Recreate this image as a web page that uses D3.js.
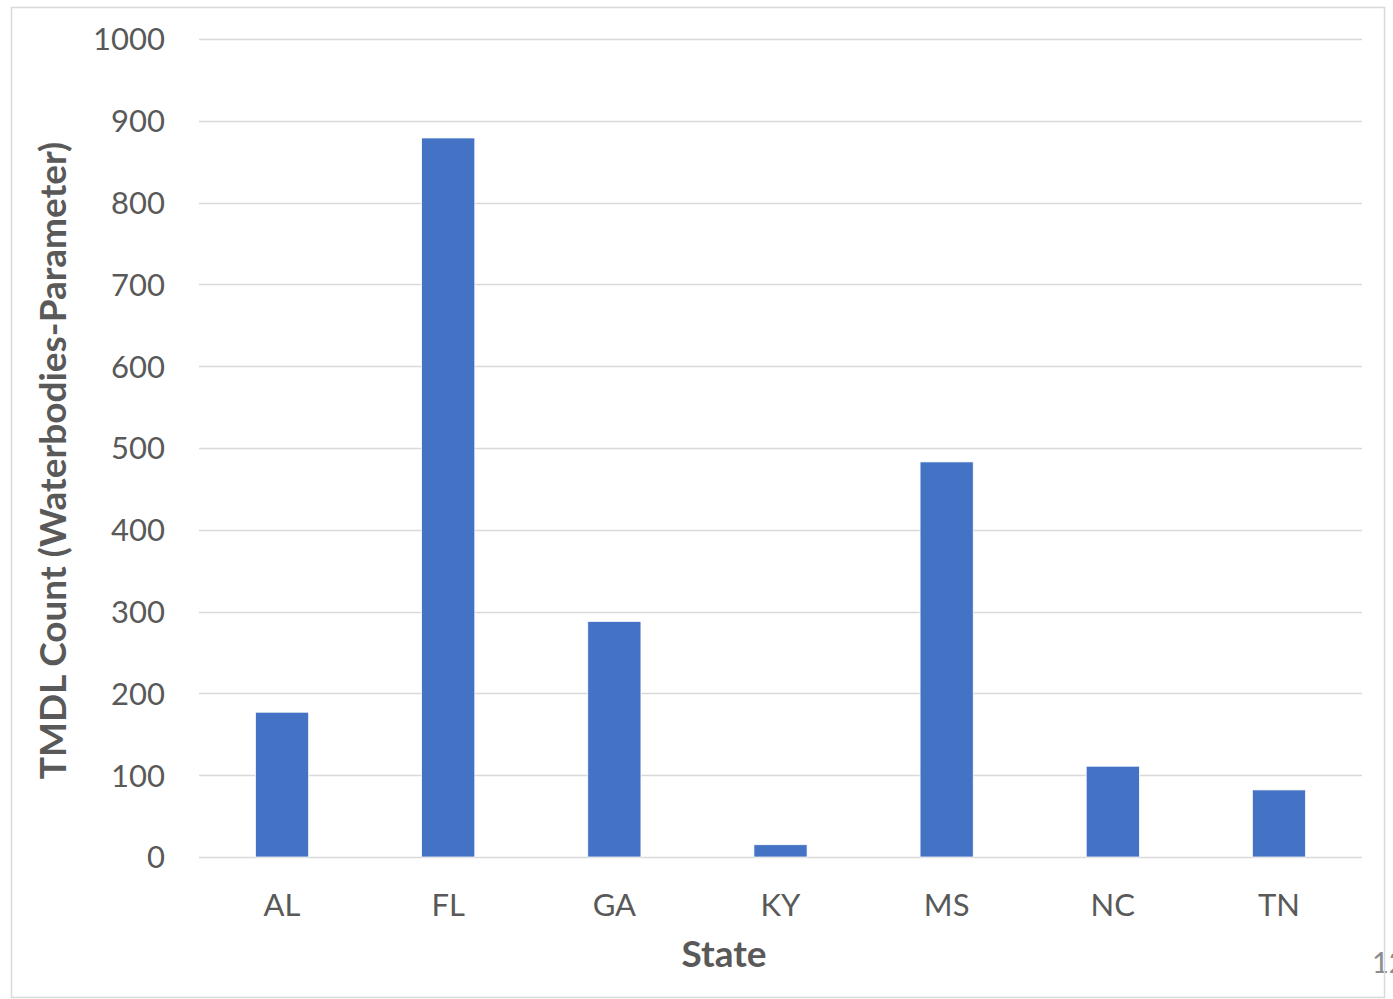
<!DOCTYPE html>
<html>
<head>
<meta charset="utf-8">
<script src="https://cdn.jsdelivr.net/npm/d3@7"></script>
<style>
  html, body { margin: 0; padding: 0; background: #fff; }
  svg { display: block; }
</style>
</head>
<body>
<svg id="chart" width="1393" height="999"></svg>
<script>
const categories = ["AL", "FL", "GA", "KY", "MS", "NC", "TN"];
const values = [177, 879, 288, 15, 483, 111, 82];
const yTicks = [0, 100, 200, 300, 400, 500, 600, 700, 800, 900, 1000];
const xTitle = "State";
const yTitle = "TMDL Count (Waterbodies-Parameter)";
const pageNumber = "12";

const svg = d3.select("#chart");
const font = "Lato, 'Open Sans', sans-serif";
const textColor = "#595959";

const plot = { left: 199, right: 1362, top: 39, bottom: 857 };

const x = d3.scaleBand().domain(categories).range([plot.left, plot.right]).padding(0);
const y = d3.scaleLinear().domain([0, 1000]).range([plot.bottom, plot.top]);

// page number (partly behind border)
svg.append("text")
  .attr("x", 1372).attr("y", 973)
  .attr("font-family", font).attr("font-size", 29)
  .attr("fill", "#8c8c8c")
  .text(pageNumber);

// gridlines
svg.append("g").selectAll("line").data(yTicks).join("line")
  .attr("x1", plot.left).attr("x2", plot.right)
  .attr("y1", d => Math.round(y(d)) + 0.5).attr("y2", d => Math.round(y(d)) + 0.5)
  .attr("stroke", "#d9d9d9").attr("stroke-width", 1.5);

// y axis labels
const yAxis = d3.axisLeft(y).tickValues(yTicks).tickFormat(d3.format("d")).tickSize(0).tickPadding(0);
const gy = svg.append("g").attr("transform", `translate(165,0)`).call(yAxis);
gy.select(".domain").remove();
gy.selectAll("text")
  .attr("font-family", font).attr("font-size", 31)
  .attr("fill", textColor).attr("dy", "0.35em");

// bars
const barW = x.bandwidth() * 0.32;
svg.append("g").selectAll("rect").data(values).join("rect")
  .attr("x", (d, i) => x(categories[i]) + x.bandwidth() / 2 - barW / 2)
  .attr("width", barW)
  .attr("y", d => y(d))
  .attr("height", d => y(0) - y(d))
  .attr("fill", "#4472C4")
  .attr("stroke", "#ffffff").attr("stroke-width", 0.75);

// x axis labels
const xAxis = d3.axisBottom(x).tickSize(0).tickPadding(0);
const gx = svg.append("g").attr("transform", `translate(0,${plot.bottom})`).call(xAxis);
gx.select(".domain").remove();
gx.selectAll("text")
  .attr("font-family", font).attr("font-size", 31)
  .attr("fill", textColor).attr("y", 59).attr("dy", "0");

// titles
svg.append("text")
  .attr("x", 724).attr("y", 967)
  .attr("text-anchor", "middle")
  .attr("font-family", font).attr("font-size", 37).attr("font-weight", "bold")
  .attr("fill", textColor).text(xTitle);

svg.append("text")
  .attr("transform", `translate(66,${(138 + 783) / 2}) rotate(-90)`)
  .attr("text-anchor", "middle")
  .attr("font-family", font).attr("font-size", 37).attr("font-weight", "bold")
  .attr("fill", textColor).text(yTitle);

// chart border
svg.append("rect")
  .attr("x", 11.5).attr("y", 7.5).attr("width", 1373).attr("height", 990)
  .attr("fill", "none").attr("stroke", "#d9d9d9").attr("stroke-width", 1.5);
</script>
</body>
</html>
